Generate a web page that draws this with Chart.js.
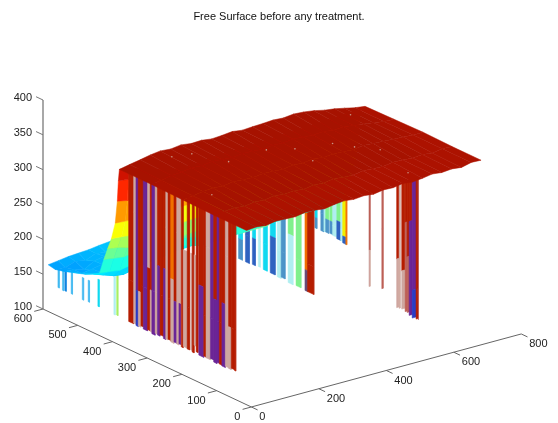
<!DOCTYPE html>
<html><head><meta charset="utf-8">
<style>html,body{margin:0;padding:0;background:#fff}canvas{display:block;filter:blur(0.35px)}</style>
<script src="https://cdn.jsdelivr.net/npm/chart.js@4/dist/chart.umd.min.js"></script>
</head><body><canvas id="c" width="558" height="423"></canvas>
<script>
const titleText = "Free Surface before any treatment.";
const xTicks = [0,200,400,600,800];
const yTicks = [0,100,200,300,400,500,600];
const zTicks = [100,150,200,250,300,350,400];

// Low band and ramp behind the roof
const meshX = [0,30,60,90,120,150,190,240,300,400,550,715];
const meshY = [585,565,540,517,480,455,437,425,414,403,392,386,383,380];
const meshZ0  = [167,169,171,172,173,175,177,178,180,182,184,186];
const meshZ1  = [165,164,169,166,172,170,176,178,180,182,185,187];
const meshZ2  = [168,167,163,171,174,170,176,179,182,184,186,188];
const meshZ3  = [172,167,169,172,168,175,178,180,183,185,188,190];
const meshZ4  = [178,175,171,165,172,176,179,182,184,186,190,192];
const meshZ5  = [184,179,174,172,175,179,181,185,187,189,192,194];
const meshZ6  = [190,188,186,189,190,194,204,198,190,192,196,198];
const meshZ7  = [212,210,208,210,212,214,216,212,206,208,212,214];
const meshZ8  = [230,228,224,222,220,218,218,220,222,224,228,230];
const meshZ9  = [247,246,244,244,242,242,242,244,246,248,250,252];
const meshZ10 = [272,271,270,270,269,269,270,271,272,273,274,275];
const meshZ11 = [305,302,300,298,297,296,296,298,300,302,304,306];
const meshZ12 = [335,333,330,326,322,318,316,318,320,322,325,330];
const meshZ13 = [352,350,345,340,336,332,330,332,334,336,340,345];
const meshZ = [meshZ0,meshZ1,meshZ2,meshZ3,meshZ4,meshZ5,meshZ6,meshZ7,meshZ8,meshZ9,meshZ10,meshZ11,meshZ12,meshZ13];

// Roof
const roofX = [0,30,60,90,120,150,180,210,240,270,300,330,360,390,420,450,480,510,540,570,600,630,660,690,720];
const roofFrontY = [14,15,16,17,18,19,20,21,22,23,24,25,26,27,28,29,30,31,32,33,34,35,36,37,38];
const roofBackY = [380,380,379,379,379,378,378,378,377,377,377,376,376,376,375,375,375,374,374,374,373,373,373,372,372];
const roofFrac = [0,0.25,0.5,0.75,1];
const roofZ0 = [350,351,349,351,350,349,351,350,348,350,351,349,350,348,350,349,351,349,350,352,350,351,349,352,351];
const roofZ1 = [350,352,353,351,353,352,354,352,353,351,353,352,354,352,351,353,352,351,353,352,351,352,350,352,351];
const roofZ2 = [351,353,355,356,355,357,356,355,357,356,355,357,356,358,356,357,356,355,357,356,355,354,353,352,352];
const roofZ3 = [352,354,357,358,360,359,361,360,359,361,360,359,361,360,362,361,360,361,359,360,358,356,354,352,351];
const roofZ4 = [352,355,358,361,363,362,364,362,363,361,362,364,362,363,364,365,364,366,365,363,360,358,355,352,350];
const roofZ = [roofZ0,roofZ1,roofZ2,roofZ3,roofZ4];
const speckX = [190,141,228,346,64,645,496,524,561,404,390,521];
const speckY = [356,366,287,293,176,341,248,212,174,267,202,55];

// Dropouts along the left wall (x = 0)
const wallAStart = [353.4,339.1,332.3,325.7,318,311.4,299.1,291.4,286.6,277.1,270.6,262.9,253.4,246.6,240,232.3,222.9,215.1,208.6,202,196.3,184.9,175,170.6,164.9,159.1,151.4,137.1,130.6,118,108.6,99.1,92.3,84.9,75.1,65.7,58,48.6];
const wallAEnd   = [339.1,332.3,325.7,318,311.4,299.1,291.4,286.6,277.1,270.6,262.9,253.4,246.6,240,232.3,222.9,215.1,208.6,204,196.3,184.9,178,172.3,164.9,159.1,153.4,137.1,130.6,118,108.6,99.1,92.3,84.9,75.1,65.7,58,48.6,44.9];
const wallAUp  = "RPVRRVPRVPRRRPRORPPR-R-R-RRRPVRVRRPRRR".split("");
const wallALow = "RPBPRVRPVPVRVPRPVPVRPRPRPRVRPVVVRVPPRR".split("");
const wallASplit = [200,300,190,190,200,200,230,200,200,200,240,200,240,300,200,230,200,300,200,280,280,200,280,200,280,200,240,200,300,200,230,200,200,230,300,200,200,200];
const wallABottom = [140,141,139,140,142,139,141,140,138,141,140,142,139,140,141,139,141,140,142,139,141,140,141,139,150,142,139,141,140,142,139,141,140,139,141,140,142,141];

// Dropouts under the roof, first run (x = 400)
const wallBStart = [425.7,405.7,385.7,368.6,354.3,334.3,314.3,302.9,282.9,260,234.3,227];
const wallBEnd   = [414.3,394.3,377.1,362.9,342.9,320,302.9,291.4,268.6,245.7,227,208.6];
const wallBUp  = "CDCLCCLTGGOR".split("");
const wallBLow = "TDDLCDLTLGMR".split("");
const wallBSplit = [190,200,200,200,200,215,200,200,230,200,190,200];
const wallBBottom = [161,161,162,163,162,162,161,163,160,161,160,160];

// Second run (x = 600)
const wallCStart = [400,383,374,369,357,349,337,326,320,311];
const wallCEnd   = [394,374,369,360,349,337,326,320,311,308];
const wallCUp  = "CTLGGLGLYO".split("");
const wallCLow = "TTLTTLDLDO".split("");
const wallCSplit = [200,210,200,205,205,200,210,200,192,200];
const wallCBottom = [185,185,186,186,187,186,184,184,182,182];

// Front edge of the roof (y = 14)
const wallDStart = [363,401,445,452.6,460,470,476,482,491,502.6,508.5];
const wallDEnd   = [366.5,405,451,455.5,469,476,482,491,502.6,508.5,511];
const wallDUp  = "SSRPRRRRVRS".split("");
const wallDLow = "PSPPPSSVBRS".split("");
const wallDSplit = [274,300,251,300,232,300,250,300,200,200,200];
const wallDBottom = [222,214,181,179,177,172,170,165,160,157,155];

// Thin drops under the low band (x = 0)
const wallEStart = [557,544,537,519,487,470,442,396,388];
const wallEEnd   = [553,540,533,515,483,466,438,392,384];
const wallEColor = "KKXKKKCLW".split("");
const wallETop = [172,172,172,172,172,172,180,250,250];
const wallEBottom = [141,140,141,141,140,141,141,140,141];

// Green lip seen below the front roof edge (x = 400)
const lipY = [426,340];
const lipLow = [196,228];
const lipHigh = [236,268];

const palette = {R:'#b51d00',P:'#cfa79f',V:'#6b2596',B:'#2a3cc4',O:'#f07000',S:'#bd6058',
  C:'#10d8f0',T:'#4c94c8',D:'#2f62c0',L:'#b0eef0',G:'#80f08c',Y:'#f0f000',M:'#6a4c78',
  K:'#40b8f0',X:'#1484e0',W:'#a8f064'};

// Oblique view of (x, y, z), expressed in the chart's x scale and z scale
const view = (x,y,z)=>({x:210+0.34*x-0.35*y, y:z+0.131*x+0.2344*(y-600)});

function jet(z){
  const t=Math.min((z-87)/277,0.962), c=v=>Math.max(0,Math.min(1,v));
  const r=c(Math.min(4*t-1.5,-4*t+4.5));
  let g=c(Math.min(4*t-0.5,-4*t+3.5));
  const b=c(Math.min(4*t+0.5,-4*t+2.5));
  if(t>0.85) g=Math.max(g,0.07);
  return `rgb(${Math.round(r*255)},${Math.round(g*255)},${Math.round(b*255)})`;
}
const roofRed = z=>jet(Math.max(z,352));
const datasets=[];
function poly(pts,color){
  datasets.push({data:[...pts,pts[0]],showLine:true,fill:'shape',backgroundColor:color,borderColor:color,
    borderWidth:0.5,pointRadius:0,tension:0,clip:false});
}
function line(pts,color,w){
  datasets.push({data:pts,showLine:true,fill:false,borderColor:color,borderWidth:w,pointRadius:0,tension:0,clip:false});
}
function seg(fx,a,b,z1,z2,color){
  if(palette[color]) poly([fx(a,z1),fx(b,z1),fx(b,z2),fx(a,z2)],palette[color]);
}
function wall(fx,start,end,up,low,split,bottom,top){
  start.forEach((s,i)=>{
    seg(fx,s,end[i],top,split[i],up[i]);
    seg(fx,s,end[i],split[i],bottom[i],low[i]);
  });
}
// far to near
wallEStart.forEach((s,i)=>seg((y,z)=>view(0,y,z),s,wallEEnd[i],wallETop[i],wallEBottom[i],wallEColor[i]));
wall((y,z)=>view(600,y,z),wallCStart,wallCEnd,wallCUp,wallCLow,wallCSplit,wallCBottom,270);
wall((y,z)=>view(400,y,z),wallBStart,wallBEnd,wallBUp,wallBLow,wallBSplit,wallBBottom,300);
poly([view(400,lipY[0],lipLow[0]),view(400,lipY[1],lipLow[1]),view(400,lipY[1],lipHigh[1]),view(400,lipY[0],lipHigh[0])],palette.G);
for(let r=0;r<meshY.length-1;r++)for(let c=0;c<meshX.length-1;c++){
  const z=meshZ, m=(z[r][c]+z[r][c+1]+z[r+1][c]+z[r+1][c+1])/4;
  poly([view(meshX[c],meshY[r],z[r][c]),view(meshX[c+1],meshY[r],z[r][c+1]),
        view(meshX[c+1],meshY[r+1],z[r+1][c+1]),view(meshX[c],meshY[r+1],z[r+1][c])],jet(m));
}
wall((y,z)=>view(0,y,z),wallAStart,wallAEnd,wallAUp,wallALow,wallASplit,wallABottom,360);
wall((x,z)=>view(x,14,z),wallDStart,wallDEnd,wallDUp,wallDLow,wallDSplit,wallDBottom,360);
for(let r=roofFrac.length-2;r>=0;r--)for(let c=0;c<roofX.length-1;c++){
  const Y=(i,f)=>roofFrontY[i]+(roofBackY[i]-roofFrontY[i])*f, f0=roofFrac[r], f1=roofFrac[r+1], z=roofZ;
  const m=(z[r][c]+z[r][c+1]+z[r+1][c]+z[r+1][c+1])/4;
  poly([view(roofX[c],Y(c,f0),z[r][c]),view(roofX[c+1],Y(c+1,f0),z[r][c+1]),
        view(roofX[c+1],Y(c+1,f1),z[r+1][c+1]),view(roofX[c],Y(c,f1),z[r+1][c])],roofRed(m));
}
datasets.push({data:speckX.map((x,i)=>view(x,speckY[i],355)),showLine:false,pointRadius:0.8,pointBackgroundColor:'#c99484',pointBorderWidth:0,clip:false});
// axes
line([view(0,600,100),view(0,600,400)],'#a8a8a8',2);
zTicks.forEach(z=>line([view(0,600,z),view(0,620,z)],'#777',1));
line([view(0,0,100),view(800,0,100)],'#666',1);
line([view(0,0,100),view(0,600,100)],'#666',1);
xTicks.forEach(x=>line([view(x,0,100),view(x,-18,100)],'#666',1));
yTicks.forEach(y=>line([view(0,y,100),view(-26,y,100)],'#666',1));

const FONT='11px "Liberation Sans", Arial, sans-serif';
const floorLabels={id:'floorLabels',afterDatasetsDraw(ch){
  const c=ch.ctx,sx=ch.scales.x,sy=ch.scales.y;
  c.save();c.font=FONT;c.fillStyle='#222';c.textBaseline='middle';
  c.textAlign='left';
  xTicks.forEach(x=>{const p=view(x,0,100);c.fillText(String(x),sx.getPixelForValue(p.x)+8,sy.getPixelForValue(p.y)+10);});
  c.textAlign='right';
  yTicks.forEach(y=>{const p=view(0,y,100);c.fillText(String(y),sx.getPixelForValue(p.x)-11,sy.getPixelForValue(p.y)+10);});
  c.restore();
}};
const paper={id:'paper',beforeDraw(ch){const c=ch.ctx;c.save();c.fillStyle='#fff';c.fillRect(0,0,ch.width,ch.height);c.restore();}};

const chart=new Chart(document.getElementById('c'),{
  type:'scatter',
  data:{datasets:datasets.reverse()},
  plugins:[paper,floorLabels],
  options:{
    responsive:false,maintainAspectRatio:false,animation:false,events:[],
    layout:{padding:0},
    plugins:{legend:{display:false},tooltip:{enabled:false},
      title:{display:true,text:titleText,color:'#111',font:{family:'"Liberation Sans", Arial, sans-serif',size:11,weight:'normal',lineHeight:1},padding:{top:11,bottom:1}}},
    scales:{
      x:{type:'linear',display:false,min:0,max:515},
      y:{type:'linear',bounds:'data',min:-63.6,max:510.5,
        afterBuildTicks(s){s.ticks=zTicks.map(v=>({value:v}));},
        afterFit(s){s.width=43;},
        border:{display:false},grid:{display:false},
        ticks:{color:'#222',padding:3,labelOffset:-2,autoSkip:false,font:{family:'"Liberation Sans", Arial, sans-serif',size:11}}}
    }
  }
});
// Pin the z axis so that 100 and 400 sit where the reference draws them
const area=chart.chartArea, zUnit=209/300;
chart.options.scales.y.min=100-(area.bottom-309)/zUnit;
chart.options.scales.y.max=400+(100-area.top)/zUnit;
chart.update();
</script></body></html>
